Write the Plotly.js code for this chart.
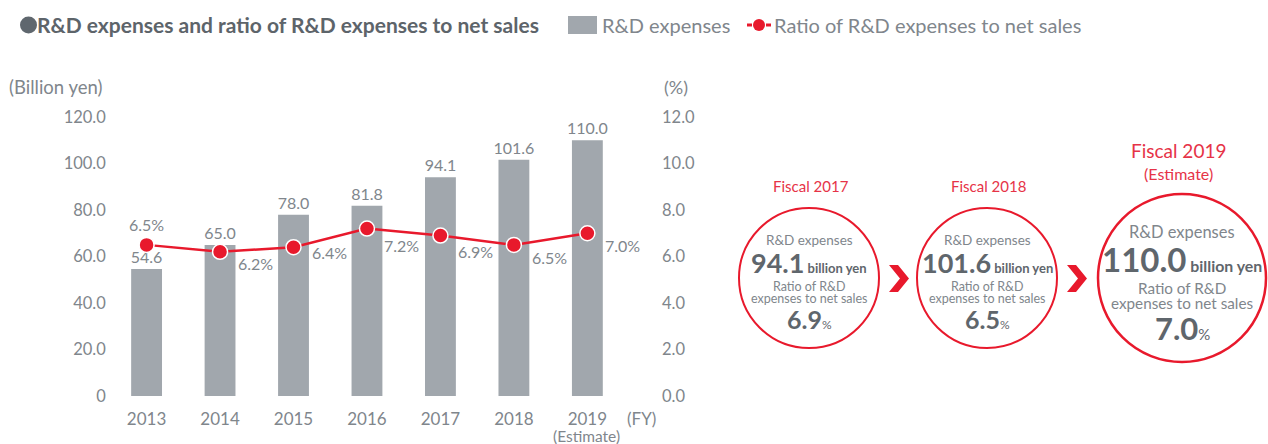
<!DOCTYPE html>
<html>
<head>
<meta charset="utf-8">
<script src="https://cdn.plot.ly/plotly-3.0.1.min.js"></script>
<style>html,body{margin:0;padding:0;background:#fff;}#chart{width:1268px;height:444px;}</style>
</head>
<body>
<div id="chart"></div>
<script>
// ---- data ----
const years = ['2013', '2014', '2015', '2016', '2017', '2018', '2019'];
const rdExpenses = [54.6, 65.0, 78.0, 81.8, 94.1, 101.6, 110.0];
const rdRatio = [6.5, 6.2, 6.4, 7.2, 6.9, 6.5, 7.0];
const leftTicks = [0, 20, 40, 60, 80, 100, 120];
const leftTickText = ['0', '20.0', '40.0', '60.0', '80.0', '100.0', '120.0'];
const rightTicks = [0, 2, 4, 6, 8, 10, 12];
const rightTickText = ['0.0', '2.0', '4.0', '6.0', '8.0', '10.0', '12.0'];
const highlightYears = ['Fiscal 2017', 'Fiscal 2018', 'Fiscal 2019'];
const highlightExpenses = ['94.1', '101.6', '110.0'];
const highlightRatio = ['6.9', '6.5', '7.0'];

// ---- layout helpers ----
const W = 1268, H = 444;
const px = x => x / W;
const py = y => 1 - y / H;
const FONT = 'Lato, "Noto Sans", sans-serif';
const GRAY = '#80868c';
const DARK = '#5f666c';
const RED = '#e8192c';
const RED_TXT = '#e63347';
const BAR = '#a1a7ad';

const traces = [
  {
    type: 'bar', x: years, y: rdExpenses, yaxis: 'y',
    marker: {color: BAR}, width: 0.42,
    text: rdExpenses.map(v => v.toFixed(1)), textposition: 'outside', constraintext: 'none',
    textfont: {family: FONT, size: 16, color: GRAY},
    cliponaxis: false, hoverinfo: 'skip', showlegend: false
  },
  {
    type: 'scatter', mode: 'lines+markers', x: years, y: rdRatio, yaxis: 'y2',
    line: {color: RED, width: 2.5},
    marker: {color: RED, size: 15, line: {color: '#ffffff', width: 1.5}},
    cliponaxis: false, hoverinfo: 'skip', showlegend: false
  }
];

const annotations = [];
const shapes = [];
const addText = (x, y, text, size, color, opts) => annotations.push(Object.assign({
  xref: 'paper', yref: 'paper', x: px(x), y: py(y), text: text, showarrow: false,
  xanchor: 'center', yanchor: 'middle', font: {family: FONT, size: size, color: color}
}, opts || {}));

// ratio labels (x given as category index)
const ratioShift = [[0, 20], [35, -12], [36, -5], [35, -17], [35, -16], [36, -13], [35, -12]];
rdRatio.forEach((v, i) => annotations.push({
  xref: 'x', yref: 'y2', x: i, y: v, text: v.toFixed(1) + '%', showarrow: false,
  xshift: ratioShift[i][0], yshift: ratioShift[i][1],
  font: {family: FONT, size: 16, color: GRAY}
}));

// title + legend
shapes.push({type: 'circle', xref: 'paper', yref: 'paper', x0: px(20), x1: px(37), y0: py(33.5), y1: py(16.5), fillcolor: '#5f676e', line: {width: 0}});
addText(35, 25, '<b>R&D expenses and ratio of R&D expenses to net sales</b>', 21, '#5d646a', {xanchor: 'left'});
shapes.push({type: 'rect', xref: 'paper', yref: 'paper', x0: px(568), x1: px(597), y0: py(34), y1: py(16), fillcolor: BAR, line: {width: 0}});
addText(600, 25, 'R&D expenses', 20, GRAY, {xanchor: 'left'});
shapes.push({type: 'line', xref: 'paper', yref: 'paper', x0: px(747), x1: px(752), y0: py(25), y1: py(25), line: {color: RED, width: 3}});
shapes.push({type: 'line', xref: 'paper', yref: 'paper', x0: px(766), x1: px(771), y0: py(25), y1: py(25), line: {color: RED, width: 3}});
shapes.push({type: 'circle', xref: 'paper', yref: 'paper', x0: px(753), x1: px(765), y0: py(31), y1: py(19), fillcolor: RED, line: {width: 0}});
addText(772, 25, 'Ratio of R&D expenses to net sales', 20, GRAY, {xanchor: 'left'});

// axis captions
addText(7, 87, '(Billion yen)', 18.5, GRAY, {xanchor: 'left'});
addText(662, 87, '(%)', 18, GRAY, {xanchor: 'left'});
addText(641, 418, '(FY)', 17, GRAY);
addText(586, 436, '(Estimate)', 15.5, GRAY);

// highlight circles
const circ = [
  {cx: 809, cy: 278, r: 70, s: 1},
  {cx: 987, cy: 278, r: 70, s: 1},
  {cx: 1182, cy: 278, r: 84, s: 1.22}
];
circ.forEach((c, i) => {
  shapes.push({type: 'circle', xref: 'paper', yref: 'paper',
    x0: px(c.cx - c.r), x1: px(c.cx + c.r), y0: py(c.cy + c.r), y1: py(c.cy - c.r),
    line: {color: RED, width: i === 2 ? 2.5 : 2}});
  const s = c.s;
  const o = (d) => c.cy + d * s;
  addText(c.cx, o(-38), 'R&D expenses', 13.5 * s, GRAY);
  addText(c.cx, o(-15.5), '<b><span style="font-size:' + (27 * s).toFixed(0) + 'px">' + highlightExpenses[i] + '</span> billion yen</b>', 13 * s, DARK);
  addText(c.cx, o(8), 'Ratio of R&D', 12.5 * s, GRAY);
  addText(c.cx, o(20.5), 'expenses to net sales', 12.5 * s, GRAY);
  addText(c.cx, o(41), '<b><span style="font-size:' + (25 * s).toFixed(0) + 'px">' + highlightRatio[i] + '</span></b><span style="font-size:' + (12 * s).toFixed(0) + 'px">%</span>', 13 * s, DARK);
});
addText(811, 186, highlightYears[0], 15, RED_TXT);
addText(988, 186, highlightYears[1], 15, RED_TXT);
addText(1178, 150, highlightYears[2], 19, RED_TXT);
addText(1178, 173, '(Estimate)', 16, RED_TXT);

// chevrons
const chev = x => 'M' + px(x) + ',' + py(265) + ' L' + px(x + 9) + ',' + py(265) + ' L' + px(x + 20) + ',' + py(278.5) +
  ' L' + px(x + 9) + ',' + py(292) + ' L' + px(x) + ',' + py(292) + ' L' + px(x + 11) + ',' + py(278.5) + ' Z';
[889, 1067].forEach(x => shapes.push({type: 'path', xref: 'paper', yref: 'paper', path: chev(x), fillcolor: RED, line: {width: 0}}));

const layout = {
  width: W, height: H,
  margin: {l: 0, r: 0, t: 0, b: 0, pad: 0},
  paper_bgcolor: '#ffffff', plot_bgcolor: 'rgba(0,0,0,0)',
  showlegend: false,
  xaxis: {
    type: 'category', range: [-0.5, 6.5], domain: [px(109.85), px(624.1)],
    showgrid: false, zeroline: false, showline: false, ticks: '',
    tickfont: {family: FONT, size: 17, color: GRAY}, ticklabelstandoff: 11, fixedrange: true
  },
  yaxis: {
    range: [0, 120], domain: [py(396), py(117)],
    tickvals: leftTicks, ticktext: leftTickText,
    showgrid: false, zeroline: false, showline: false, ticks: '',
    tickfont: {family: FONT, size: 16.5, color: GRAY}, ticklabelstandoff: 3, fixedrange: true
  },
  yaxis2: {
    range: [0, 12], overlaying: 'y', side: 'right', anchor: 'free', position: px(661),
    tickvals: rightTicks, ticktext: rightTickText,
    showgrid: false, zeroline: false, showline: false, ticks: '',
    tickfont: {family: FONT, size: 16.5, color: GRAY}, fixedrange: true
  },
  annotations: annotations,
  shapes: shapes
};

Plotly.newPlot('chart', traces, layout, {staticPlot: true, displayModeBar: false});
</script>
</body>
</html>
